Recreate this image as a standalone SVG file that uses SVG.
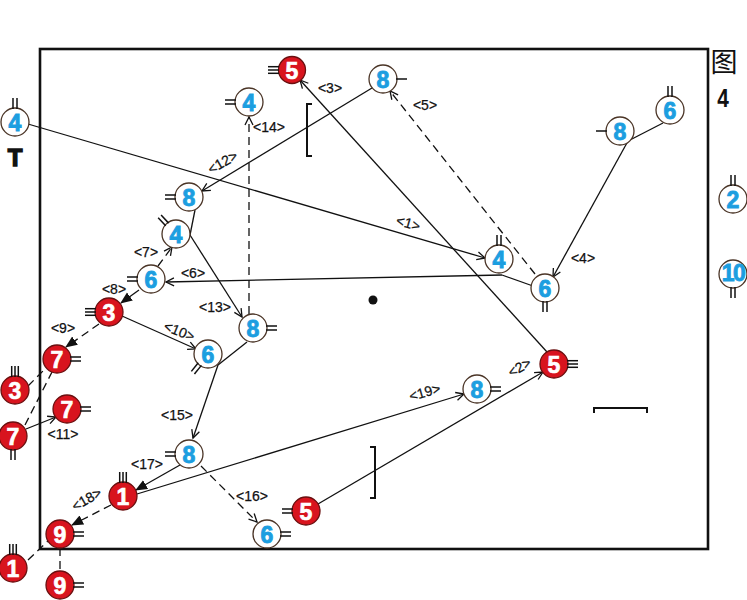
<svg xmlns="http://www.w3.org/2000/svg" xmlns:xlink="http://www.w3.org/1999/xlink" width="747" height="600" viewBox="0 0 747 600">
<style>
.b{fill:#fff;stroke:#4a3426;stroke-width:1.3}
.r{fill:#d8141e;stroke:#6a1010;stroke-width:1.3}
.tb{font-family:"Liberation Sans",Arial,sans-serif;font-weight:bold;font-size:23px;fill:#1c9ee0;stroke:#1c9ee0;stroke-width:0.9;text-anchor:middle}
.tr{font-family:"Liberation Sans",Arial,sans-serif;font-weight:bold;font-size:23px;fill:#fff;stroke:#fff;stroke-width:0.7;text-anchor:middle}
.mk line{stroke:#111;stroke-width:1.5}
.c{stroke:#111;stroke-width:1.3;fill:none}
.d{stroke-dasharray:8 5}
.ao{marker-end:url(#open)}
.as{marker-end:url(#solid)}
.lb{font-family:"Liberation Sans",Arial,sans-serif;font-size:14px;fill:#111;stroke:#111;stroke-width:0.25;text-anchor:middle}
.br{stroke:#111;stroke-width:2;fill:none}
</style>
<defs>
<marker id="open" markerUnits="userSpaceOnUse" markerWidth="12" markerHeight="12" refX="9" refY="5" orient="auto"><path d="M1,1 L9,5 L1,9" fill="none" stroke="#111" stroke-width="1.3"/></marker>
<marker id="solid" markerUnits="userSpaceOnUse" markerWidth="13" markerHeight="12" refX="11" refY="5" orient="auto"><path d="M0,0 L12,5 L0,10 z" fill="#111"/></marker>
<g id="m1" class="mk"><line x1="13" y1="0" x2="24" y2="0"/></g>
<g id="m2" class="mk"><line x1="13" y1="-2" x2="24" y2="-2"/><line x1="13" y1="2" x2="24" y2="2"/></g>
<g id="m3" class="mk"><line x1="13" y1="-3.3" x2="24" y2="-3.3"/><line x1="13" y1="0" x2="24" y2="0"/><line x1="13" y1="3.3" x2="24" y2="3.3"/></g>
</defs>
<rect x="0" y="0" width="747" height="600" fill="#fff"/>
<rect id="frame" x="40" y="49" width="668" height="500" fill="none" stroke="#111" stroke-width="2.6"/>
<g id="marks-extra">
<circle cx="373" cy="300" r="4.5" fill="#111"/>
<path class="br" d="M312,104 H307 V156 H312"/>
<path class="br" d="M370,447 H375 V498 H370"/>
<path class="br" d="M594,413 V408 H647 V413"/>
<text x="724" y="72" font-family="'Noto Sans CJK SC',sans-serif" font-size="27" text-anchor="middle" fill="#111">图</text>
<text x="0" y="0" transform="translate(723,107) scale(0.8,1)" font-family="'Liberation Sans',Arial,sans-serif" font-weight="bold" font-size="26" text-anchor="middle" fill="#111">4</text>
<text x="15" y="166" font-family="'Liberation Sans',Arial,sans-serif" font-weight="bold" font-size="24" text-anchor="middle" fill="#111" stroke="#111" stroke-width="1.4">T</text>
</g>
<g id="connectors">
<line class="c ao" x1="28" y1="124" x2="485" y2="258"/>
<line class="c ao" x1="318" y1="504" x2="543" y2="372"/>
<line class="c ao" x1="547" y1="352" x2="300" y2="80"/>
<line class="c" x1="663" y1="123" x2="628" y2="141"/>
<line class="c ao" x1="628" y1="141" x2="553" y2="277"/>
<line class="c d ao" x1="535" y1="274" x2="390" y2="91"/>
<line class="c" x1="533" y1="286" x2="502" y2="275"/>
<line class="c ao" x1="502" y1="275" x2="166" y2="282"/>
<line class="c d ao" x1="158" y1="266" x2="172" y2="247"/>
<line class="c as" x1="139" y1="290" x2="121" y2="303"/>
<line class="c d as" x1="99" y1="324" x2="66" y2="347"/>
<line class="c ao" x1="122" y1="316" x2="196" y2="349"/>
<line class="c ao" x1="26" y1="429" x2="56" y2="417"/>
<line class="c d" x1="28" y1="386" x2="47" y2="367"/>
<line class="c d" x1="25" y1="425" x2="52" y2="372"/>
<line class="c ao" x1="372" y1="88" x2="202" y2="191"/>
<line class="c" x1="195" y1="210" x2="190" y2="235"/>
<line class="c ao" x1="190" y1="235" x2="242" y2="317"/>
<line class="c d ao" x1="249" y1="314" x2="249" y2="117"/>
<line class="c" x1="247" y1="342" x2="218" y2="365"/>
<line class="c ao" x1="218" y1="365" x2="193" y2="438"/>
<line class="c d ao" x1="201" y1="466" x2="257" y2="522"/>
<line class="c as" x1="180" y1="465" x2="136" y2="490"/>
<line class="c d as" x1="111" y1="505" x2="72" y2="525"/>
<line class="c ao" x1="137" y1="494" x2="464" y2="394"/>
<line class="c d" x1="28" y1="560" x2="48" y2="541"/>
<line class="c d" x1="60" y1="548" x2="60" y2="571"/>
<g id="labels">
<text class="lb" transform="rotate(16 408 224)" x="408" y="228">&lt;1&gt;</text>
<text class="lb" transform="rotate(-30 520 368)" x="520" y="372">&lt;2&gt;</text>
<text class="lb" x="330" y="93">&lt;3&gt;</text>
<text class="lb" x="583" y="263">&lt;4&gt;</text>
<text class="lb" x="425" y="110">&lt;5&gt;</text>
<text class="lb" x="193" y="278">&lt;6&gt;</text>
<text class="lb" x="146" y="257">&lt;7&gt;</text>
<text class="lb" x="114" y="294">&lt;8&gt;</text>
<text class="lb" x="63" y="333">&lt;9&gt;</text>
<text class="lb" transform="rotate(22 179 332)" x="179" y="336">&lt;10&gt;</text>
<text class="lb" x="63" y="439">&lt;11&gt;</text>
<text class="lb" transform="rotate(-30 223 163)" x="223" y="167">&lt;12&gt;</text>
<text class="lb" x="215" y="312">&lt;13&gt;</text>
<text class="lb" x="269" y="132">&lt;14&gt;</text>
<text class="lb" x="177" y="420">&lt;15&gt;</text>
<text class="lb" x="252" y="501">&lt;16&gt;</text>
<text class="lb" x="147" y="469">&lt;17&gt;</text>
<text class="lb" transform="rotate(-30 87 500)" x="87" y="504">&lt;18&gt;</text>
<text class="lb" transform="rotate(-16 425 393)" x="425" y="397">&lt;19&gt;</text>
</g>
</g>
<g id="n1"><circle class="b" cx="15" cy="122" r="14"/><text class="tb" x="15" y="130.5">4</text><use xlink:href="#m2" transform="translate(15,122) rotate(-90)"/></g>
<g id="n2"><circle class="r" cx="292" cy="70" r="13.5"/><text class="tr" x="292" y="78.5">5</text><use xlink:href="#m3" transform="translate(292,70) rotate(180)"/></g>
<g id="n3"><circle class="b" cx="249" cy="102" r="14"/><text class="tb" x="249" y="110.5">4</text><use xlink:href="#m2" transform="translate(249,102) rotate(180)"/></g>
<g id="n4"><circle class="b" cx="383" cy="79" r="14"/><text class="tb" x="383" y="87.5">8</text><use xlink:href="#m1" transform="translate(383,79)"/></g>
<g id="n5"><circle class="b" cx="670" cy="110" r="14"/><text class="tb" x="670" y="118.5">6</text><use xlink:href="#m2" transform="translate(670,110) rotate(-90)"/></g>
<g id="n6"><circle class="b" cx="620" cy="131" r="14"/><text class="tb" x="620" y="139.5">8</text><use xlink:href="#m1" transform="translate(620,131) rotate(180)"/></g>
<g id="n7"><circle class="b" cx="189" cy="197" r="14"/><text class="tb" x="189" y="205.5">8</text><use xlink:href="#m2" transform="translate(189,197) rotate(180)"/></g>
<g id="n8"><circle class="b" cx="176" cy="234" r="14"/><text class="tb" x="176" y="242.5">4</text><use xlink:href="#m2" transform="translate(176,234) rotate(-133)"/></g>
<g id="n9"><circle class="b" cx="151" cy="279" r="14"/><text class="tb" x="151" y="287.5">6</text><use xlink:href="#m2" transform="translate(151,279) rotate(180)"/></g>
<g id="n10"><circle class="r" cx="109" cy="312" r="14"/><text class="tr" x="109" y="320.5">3</text><use xlink:href="#m3" transform="translate(109,312) rotate(180)"/></g>
<g id="n11"><circle class="b" cx="253" cy="328" r="14"/><text class="tb" x="253" y="336.5">8</text><use xlink:href="#m2" transform="translate(253,328)"/></g>
<g id="n12"><circle class="b" cx="208" cy="354" r="14"/><text class="tb" x="208" y="362.5">6</text><use xlink:href="#m2" transform="translate(208,354) rotate(129)"/></g>
<g id="n13"><circle class="r" cx="57" cy="359" r="14"/><text class="tr" x="57" y="367.5">7</text><use xlink:href="#m2" transform="translate(57,359)"/></g>
<g id="n14"><circle class="r" cx="15" cy="390" r="14"/><text class="tr" x="15" y="398.5">3</text><use xlink:href="#m3" transform="translate(15,390) rotate(-90)"/></g>
<g id="n15"><circle class="r" cx="67" cy="409" r="14"/><text class="tr" x="67" y="417.5">7</text><use xlink:href="#m2" transform="translate(67,409)"/></g>
<g id="n16"><circle class="r" cx="13" cy="436" r="14"/><text class="tr" x="13" y="444.5">7</text><use xlink:href="#m2" transform="translate(13,436) rotate(90)"/></g>
<g id="n17"><circle class="b" cx="189" cy="454" r="14"/><text class="tb" x="189" y="462.5">8</text><use xlink:href="#m2" transform="translate(189,454) rotate(180)"/></g>
<g id="n18"><circle class="r" cx="123" cy="496" r="14"/><text class="tr" x="123" y="504.5">1</text><use xlink:href="#m3" transform="translate(123,496) rotate(-90)"/></g>
<g id="n19"><circle class="r" cx="60" cy="534" r="14"/><text class="tr" x="60" y="542.5">9</text><use xlink:href="#m2" transform="translate(60,534)"/></g>
<g id="n20"><circle class="r" cx="13" cy="568" r="14"/><text class="tr" x="13" y="576.5">1</text><use xlink:href="#m3" transform="translate(13,568) rotate(-90)"/></g>
<g id="n21"><circle class="r" cx="60" cy="585" r="14"/><text class="tr" x="60" y="593.5">9</text><use xlink:href="#m2" transform="translate(60,585)"/></g>
<g id="n22"><circle class="b" cx="267" cy="534" r="14"/><text class="tb" x="267" y="542.5">6</text><use xlink:href="#m2" transform="translate(267,534)"/></g>
<g id="n23"><circle class="r" cx="306" cy="511" r="14"/><text class="tr" x="306" y="519.5">5</text><use xlink:href="#m2" transform="translate(306,511) rotate(180)"/></g>
<g id="n24"><circle class="b" cx="477" cy="389" r="14"/><text class="tb" x="477" y="397.5">8</text><use xlink:href="#m2" transform="translate(477,389)"/></g>
<g id="n25"><circle class="r" cx="554" cy="364" r="14"/><text class="tr" x="554" y="372.5">5</text><use xlink:href="#m3" transform="translate(554,364)"/></g>
<g id="n26"><circle class="b" cx="499" cy="259" r="14"/><text class="tb" x="499" y="267.5">4</text><use xlink:href="#m2" transform="translate(499,259) rotate(-90)"/></g>
<g id="n27"><circle class="b" cx="545" cy="288" r="14"/><text class="tb" x="545" y="296.5">6</text><use xlink:href="#m2" transform="translate(545,288) rotate(90)"/></g>
<g id="n28"><circle class="b" cx="733" cy="199" r="14"/><text class="tb" x="733" y="207.5">2</text><use xlink:href="#m2" transform="translate(733,199) rotate(-90)"/></g>
<g id="n29"><circle class="b" cx="733" cy="274" r="14"/><text class="tb" x="733" y="281" font-size="18" letter-spacing="-1.5">10</text><use xlink:href="#m2" transform="translate(733,274) rotate(90)"/></g>
</svg>
